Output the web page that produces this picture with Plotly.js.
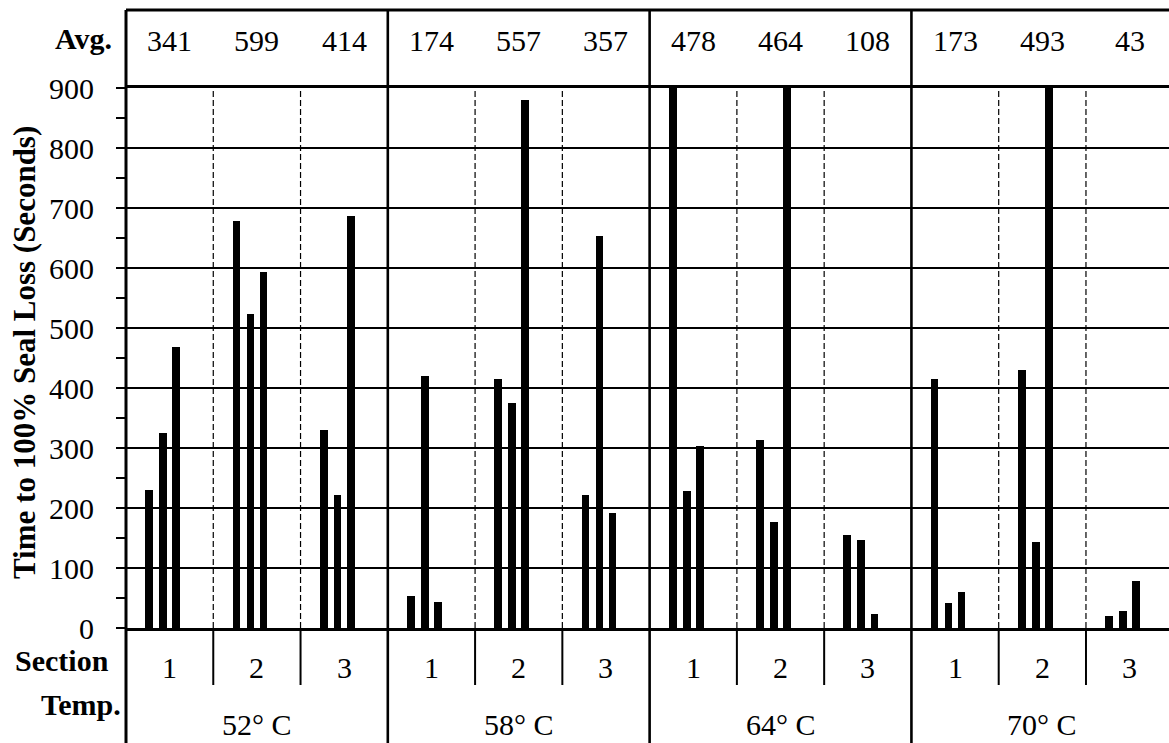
<!DOCTYPE html>
<html>
<head>
<meta charset="utf-8">
<script src="https://cdn.plot.ly/plotly-3.0.1.min.js"></script>
<style>
html, body { margin: 0; padding: 0; overflow: hidden; background: #fff; }
#chart { width: 1169px; height: 743px; }
</style>
</head>
<body>
<div id="chart"></div>
<script>
// ---- data ----
const temperatures = ['52° C', '58° C', '64° C', '70° C'];
const sectionNames = ['1', '2', '3'];
const averages = [341, 599, 414, 174, 557, 357, 478, 464, 108, 173, 493, 43];
// three replicates per (temperature, section), in order 52-1, 52-2, 52-3, 58-1, ...
const replicate1 = [230, 678, 330, 54, 415, 221, 900, 314, 155, 415, 430, 20];
const replicate2 = [325, 523, 222, 420, 375, 653, 229, 176, 147, 41, 144, 28];
const replicate3 = [468, 594, 687, 44, 880, 192, 303, 900, 23, 60, 900, 78];
const yTickVals = [0, 100, 200, 300, 400, 500, 600, 700, 800, 900];
const yTitle = 'Time to 100% Seal Loss (Seconds)';

// ---- layout constants ----
const W = 1169, H = 743;
const M = { l: 126, r: 0, t: 88, b: 115 };
const plotW = W - M.l - M.r, plotH = H - M.t - M.b;
const sectionPx = 87.27;
const xMax = plotW / sectionPx;
const slotOffsets = [0.265, 0.425, 0.575];
const barWidth = 0.088;
const serif = 'Liberation Serif';
const py = px => (M.t + plotH - px) / plotH;      // pixel y -> paper y
const pxX = px => (px - M.l) / plotW;             // pixel x -> paper x
const font = (size, weight) => ({ family: serif, size: size, color: '#000', weight: weight || 'normal' });

const nSections = averages.length;
const reps = [replicate1, replicate2, replicate3];
const traces = reps.map((vals, j) => ({
  type: 'bar',
  x: vals.map((v, i) => i + slotOffsets[j]),
  y: vals,
  width: barWidth,
  marker: { color: '#000', line: { width: 0 } },
  hoverinfo: 'y',
  showlegend: false,
  cliponaxis: true
}));

const shapes = [];
const topY = py(10), botY = py(743), secBot = py(685);
shapes.push({ type: 'line', xref: 'paper', yref: 'paper', x0: 0, x1: 0, y0: topY, y1: botY, line: { color: '#000', width: 3 } });
shapes.push({ type: 'line', xref: 'paper', yref: 'paper', x0: 0, x1: 1.01, y0: topY, y1: topY, line: { color: '#000', width: 3 } });
for (let s = 1; s < nSections; s++) {
  if (s % 3 === 0) {
    shapes.push({ type: 'line', xref: 'x', yref: 'paper', x0: s, x1: s, y0: topY, y1: botY, line: { color: '#000', width: 2.6 } });
  } else {
    shapes.push({ type: 'line', xref: 'x', yref: 'paper', x0: s, x1: s, y0: 0, y1: 1, line: { color: '#000', width: 1.2, dash: '6px,3px' } });
    shapes.push({ type: 'line', xref: 'x', yref: 'paper', x0: s, x1: s, y0: 0, y1: secBot, line: { color: '#000', width: 2 } });
  }
}
yTickVals.forEach(v => {
  if (v > 0 && v < 900) {
    shapes.push({ type: 'line', xref: 'paper', yref: 'y', x0: 0, x1: 9 / plotW, y0: v, y1: v, line: { color: '#000', width: 2 } });
  }
});

const annotations = [];
const ann = (text, x, y, xanchor, f, xref, extra) => Object.assign({
  text: text, xref: xref || 'paper', yref: 'paper', x: x, y: y,
  xanchor: xanchor, yanchor: 'middle', showarrow: false, font: f
}, extra || {});
annotations.push(ann('Avg.', pxX(114), py(38), 'right', font(30, 'bold')));
averages.forEach((a, i) => annotations.push(ann(String(a), i + 0.5, py(40), 'center', font(30), 'x')));
annotations.push(ann('Section', pxX(111), py(660), 'right', font(30, 'bold')));
for (let i = 0; i < nSections; i++) {
  annotations.push(ann(sectionNames[i % 3], i + 0.5, py(667), 'center', font(30), 'x'));
}
annotations.push(ann('Temp.', pxX(123), py(704), 'right', font(30, 'bold')));
temperatures.forEach((t, k) => annotations.push(ann(t, 3 * k + 1.5, py(724), 'center', font(30), 'x')));
annotations.push(ann(yTitle, pxX(24), py(353), 'center', font(31, 'bold'), 'paper', { textangle: -90 }));

const layout = {
  width: W, height: H,
  margin: M,
  paper_bgcolor: '#fff', plot_bgcolor: '#fff',
  font: { family: serif, color: '#000' },
  bargap: 0,
  xaxis: {
    range: [0, xMax], showgrid: false, zeroline: false, showticklabels: false, ticks: '',
    showline: true, linecolor: '#000', linewidth: 3, mirror: true, fixedrange: true
  },
  yaxis: {
    range: [0, 900], tickvals: yTickVals, ticktext: yTickVals.map(String),
    showgrid: true, gridcolor: '#000', gridwidth: 1.3, zeroline: false,
    ticks: 'outside', ticklen: 9, tickwidth: 2, tickcolor: '#000',
    ticklabelstandoff: 16,
    minor: { dtick: 50, ticks: 'outside', ticklen: 9, tickwidth: 2, tickcolor: '#000', showgrid: false },
    showline: false,
    tickfont: font(30), fixedrange: true
  },
  shapes: shapes,
  annotations: annotations,
  showlegend: false
};

Plotly.newPlot('chart', traces, layout, { displayModeBar: false, staticPlot: true });
</script>
</body>
</html>
